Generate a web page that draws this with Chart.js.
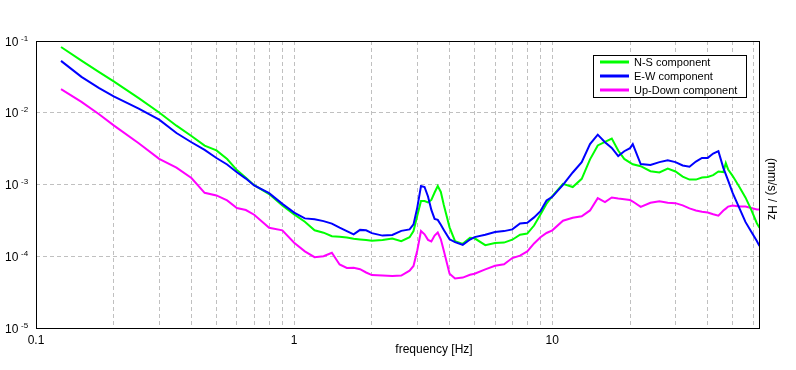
<!DOCTYPE html>
<html>
<head>
<meta charset="utf-8">
<script src="https://cdn.jsdelivr.net/npm/chart.js@4.4.0/dist/chart.umd.min.js"></script>
<style>
  body{margin:0;background:#fff;}
  canvas{display:block;}
</style>
</head>
<body>
<canvas id="psd" width="796" height="370"></canvas>
<script>
// frequency points (Hz)
const freq = [0.125,0.15,0.175,0.2,0.25,0.3,0.35,0.4,0.45,0.5,0.55,0.6,0.65,0.7,0.8,0.9,
  1.0,1.1,1.2,1.3,1.4,1.5,1.6,1.7,1.8,1.9,2.0,2.2,2.4,2.6,2.8,2.9,
  3.0,3.1,3.2,3.3,3.4,3.5,3.6,3.7,3.8,4.0,4.2,4.5,4.8,5.0,5.5,6,6.5,7,7.5,8,8.5,9,9.5,
  10,11,12,13,14,15,16,17,18,19,20,20.5,22,24,26,28,30,32,34,36,38,40,42,44,46,47,48,50,53,56,59,62,63.5];

// N-S component
const nsComp = [0.0825,0.0533,0.0371,0.0274,0.016,0.0101,0.0066,0.00475,0.00348,0.00299,0.00226,0.00159,0.00124,0.00098,0.000735,0.000511,
  0.000383,0.000303,0.00023,0.000213,0.00019,0.000187,0.000183,0.000175,0.000171,0.000168,0.000164,0.000168,0.000176,0.000162,0.000184,0.000225,
  0.000371,0.000587,0.000587,0.000562,0.000609,0.000774,0.000953,0.000787,0.000519,0.000253,0.000162,0.000149,0.000181,0.000178,0.000143,
  0.000153,0.000155,0.00017,0.0002,0.000207,0.000268,0.000383,0.000539,
  0.000686,0.00102,0.000922,0.0012,0.00224,0.0035,0.00392,0.00437,0.00297,0.00227,0.00202,0.00191,
  0.0018,0.00153,0.00147,0.00167,0.00152,0.00129,0.00117,0.00117,0.00125,0.00127,0.00135,0.00152,0.00149,0.00199,0.00162,0.00131,
  0.000929,0.00066,0.000442,0.000289,0.000249];

// E-W component
const ewComp = [0.0528,0.0316,0.0222,0.0169,0.0114,0.008,0.00522,0.00388,0.00303,0.00234,0.0019,0.00148,0.00121,0.00097,0.000758,0.000537,
  0.000406,0.000337,0.000328,0.000309,0.000285,0.00025,0.000224,0.000202,0.000233,0.00023,0.00021,0.000194,0.000198,0.000226,0.000237,0.000278,
  0.00048,0.000953,0.000922,0.000681,0.000442,0.000332,0.000321,0.000274,0.000233,0.000172,0.000157,0.000144,0.000171,0.000185,0.000199,
  0.000218,0.000224,0.000237,0.000286,0.000293,0.000348,0.000426,0.0006,
  0.000673,0.00099,0.00147,0.00205,0.00365,0.00495,0.00389,0.00324,0.00249,0.00291,0.00321,0.00365,
  0.00193,0.00187,0.00205,0.00217,0.00205,0.00184,0.00177,0.00209,0.00235,0.00235,0.0027,0.00292,0.00169,0.00138,0.00113,0.000758,
  0.000471,0.000301,0.000219,0.000163,0.000139];

// Up-Down component
const udComp = [0.0213,0.0142,0.0096,0.00666,0.00376,0.00228,0.00172,0.00123,0.000765,0.000704,0.0006,0.000471,0.000441,0.000379,0.00025,0.00023,
  0.000154,0.000117,0.000097,0.0001,0.000112,0.0000768,0.0000688,0.000069,0.000066,0.0000594,0.0000546,0.0000539,0.0000529,0.0000539,0.000063,0.0000733,
  0.000121,0.000225,0.000202,0.000169,0.000161,0.000194,0.000214,0.000172,0.000119,0.0000571,0.000049,0.0000504,0.0000551,0.0000571,0.0000656,
  0.0000738,0.0000774,0.0000944,0.000102,0.000117,0.000151,0.000184,0.000211,
  0.00023,0.000313,0.000344,0.000361,0.000435,0.000645,0.000568,0.00066,0.00064,0.000625,0.000607,0.000579,
  0.000487,0.000557,0.000585,0.000557,0.00055,0.000511,0.000464,0.000435,0.000417,0.000406,0.000384,0.000368,0.000433,0.000461,0.000492,0.000511,
  0.000495,0.000495,0.000471,0.00045,0.00045];

const xLabels = [0.1, 1, 10];
const yDecades = [1e-1, 1e-2, 1e-3, 1e-4, 1e-5];
const seriesNames = ['N-S component', 'E-W component', 'Up-Down component'];
const seriesColors = ['#00ff00', '#0000ff', '#ff00ff'];

const FONT = '"Liberation Sans", Arial, sans-serif';
const X_MAX = 63.2;

// vertical grid at 1..9 of every decade (inside the axis range)
const xGrid = [];
xLabels.forEach(d => {
  for (let m = 1; m <= 9; m++) {
    const v = Number((d * m).toPrecision(3));
    if (v <= X_MAX) xGrid.push(v);
  }
});

const pts = vals => vals.map((v, i) => ({x: freq[i], y: v}));

// box, y tick labels, axis titles, legend
const decor = {
  id: 'decor',
  afterDraw(chart) {
    const {ctx, chartArea: a, scales} = chart;
    ctx.save();
    ctx.strokeStyle = '#000';
    ctx.lineWidth = 1;
    ctx.strokeRect(a.left + 0.5, a.top + 0.5, a.right - a.left, a.bottom - a.top);

    ctx.fillStyle = '#000';
    ctx.textAlign = 'left';
    ctx.textBaseline = 'alphabetic';
    yDecades.forEach(v => {
      const y = scales.y.getPixelForValue(v);
      ctx.font = '12px ' + FONT;
      ctx.fillText('10', 5, y + 4.5);
      ctx.font = '8px ' + FONT;
      ctx.fillText(String(Math.round(Math.log10(v))), 21, y - 0.5);
    });

    ctx.font = '12px ' + FONT;
    ctx.textAlign = 'center';
    ctx.textBaseline = 'middle';
    ctx.fillText('frequency [Hz]', 434, 350);

    ctx.save();
    ctx.translate(771, 189);
    ctx.rotate(Math.PI / 2);
    ctx.fillText('(mm/s) / Hz', 0, 0);
    ctx.restore();

    // legend
    ctx.fillStyle = '#fff';
    ctx.fillRect(593.5, 55.5, 153, 42);
    ctx.strokeStyle = '#000';
    ctx.lineWidth = 1;
    ctx.strokeRect(593.5, 55.5, 153, 42);
    ctx.font = '11px ' + FONT;
    ctx.textAlign = 'left';
    ctx.textBaseline = 'middle';
    seriesNames.forEach((name, i) => {
      const y = 62 + i * 14;
      ctx.strokeStyle = seriesColors[i];
      ctx.lineWidth = 3;
      ctx.beginPath();
      ctx.moveTo(600, y);
      ctx.lineTo(629, y);
      ctx.stroke();
      ctx.fillStyle = '#000';
      ctx.fillText(name, 634, y + 0.5);
    });
    ctx.restore();
  }
};

new Chart(document.getElementById('psd'), {
  type: 'line',
  data: {
    datasets: [
      {label: seriesNames[0], data: pts(nsComp), borderColor: seriesColors[0], borderWidth: 2, order: 1},
      {label: seriesNames[1], data: pts(ewComp), borderColor: seriesColors[1], borderWidth: 2, order: 0},
      {label: seriesNames[2], data: pts(udComp), borderColor: seriesColors[2], borderWidth: 2, order: 2}
    ]
  },
  options: {
    responsive: false,
    animation: false,
    devicePixelRatio: 1,
    layout: {padding: {left: 0, top: 41, right: 37, bottom: 0}},
    elements: {point: {radius: 0}, line: {tension: 0}},
    plugins: {legend: {display: false}, tooltip: {enabled: false}},
    scales: {
      x: {
        type: 'logarithmic', min: 0.1, max: X_MAX,
        afterBuildTicks: s => { s.ticks = xGrid.map(v => ({value: v})); },
        afterFit: s => { s.height = 42; s.paddingLeft = 0; s.paddingRight = 0; },
        grid: {color: '#c0c0c0', drawTicks: false},
        border: {display: false, dash: [4, 3]},
        ticks: {
          autoSkip: false, maxRotation: 0, padding: 5, color: '#000',
          font: {family: FONT, size: 12},
          callback: v => xLabels.includes(v) ? String(v) : ''
        }
      },
      y: {
        type: 'logarithmic', min: 1e-5, max: 1e-1,
        afterBuildTicks: s => { s.ticks = yDecades.map(v => ({value: v})); },
        afterFit: s => { s.width = 36; },
        grid: {color: '#c0c0c0', drawTicks: false},
        border: {display: false, dash: [4, 3]},
        ticks: {display: false}
      }
    }
  },
  plugins: [decor]
});
</script>
</body>
</html>
